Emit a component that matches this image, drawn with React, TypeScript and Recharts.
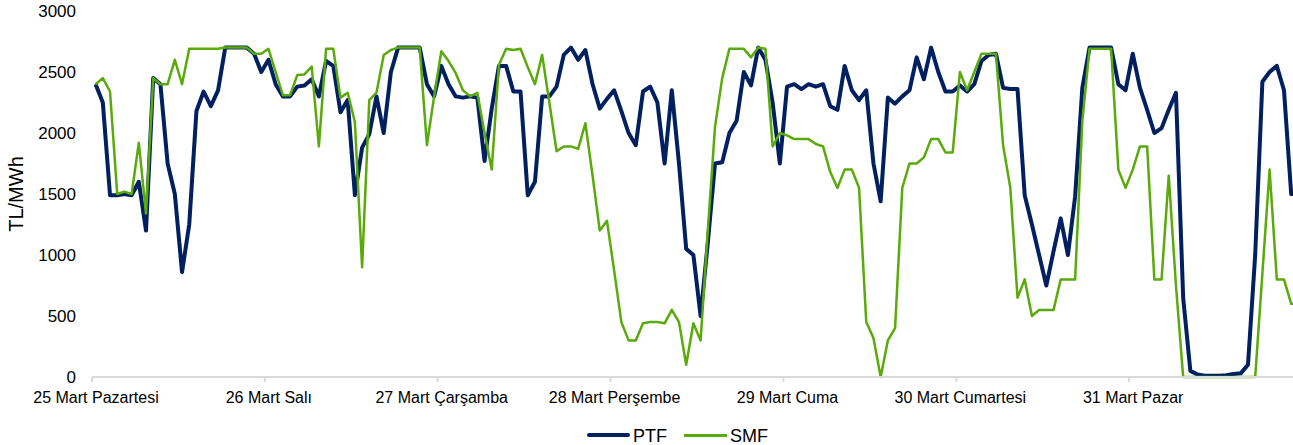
import React from 'react';
import { LineChart, Line, XAxis, YAxis, Legend, Label } from 'recharts';

const dayLabels = [
  '25 Mart Pazartesi',
  '26 Mart Salı',
  '27 Mart Çarşamba',
  '28 Mart Perşembe',
  '29 Mart Cuma',
  '30 Mart Cumartesi',
  '31 Mart Pazar',
];

const HOURS_PER_DAY = 24;

// hourly values, TL/MWh
const ptfValues = [
  2400, 2250, 1490, 1490, 1500, 1490, 1600, 1200, 2450, 2400, 1750, 1500, 860, 1250, 2180, 2340, 2220, 2350, 2700, 2700, 2700, 2700, 2650, 2500,
  2600, 2400, 2300, 2300, 2380, 2390, 2440, 2300, 2590, 2550, 2170, 2270, 1490, 1880, 1990, 2300, 2000, 2500, 2700, 2700, 2700, 2700, 2400, 2300,
  2550, 2400, 2300, 2290, 2300, 2290, 1770, 2200, 2550, 2550, 2340, 2340, 1490, 1600, 2300, 2300, 2380, 2640, 2700, 2600, 2680, 2400, 2200, 2280,
  2350, 2180, 2000, 1900, 2340, 2380, 2250, 1750, 2350, 1750, 1050, 1000, 500, 1100, 1750, 1760, 2000, 2100, 2500, 2390, 2700, 2600, 2250, 1750,
  2380, 2400, 2360, 2400, 2380, 2400, 2220, 2190, 2550, 2350, 2270, 2350, 1750, 1440, 2290, 2240, 2300, 2350, 2620, 2440, 2700, 2500, 2340, 2340,
  2390, 2340, 2400, 2590, 2640, 2650, 2370, 2360, 2360, 1490, 1250, 1000, 750, 1030, 1300, 1000, 1480, 2370, 2700, 2700, 2700, 2700, 2400, 2350,
  2650, 2370, 2190, 2000, 2040, 2190, 2330, 650, 50, 20, 10, 10, 10, 15, 25, 30, 100, 1000, 2420, 2500, 2550, 2350, 1500, 1500,
];

const smfValues = [
  2400, 2450, 2340, 1500, 1520, 1500, 1920, 1340, 2450, 2400, 2400, 2600, 2400, 2690, 2690, 2690, 2690, 2690, 2700, 2700, 2700, 2700, 2650, 2650,
  2690, 2500, 2310, 2310, 2475, 2480, 2545, 1890, 2690, 2690, 2290, 2330, 2090, 900, 2270, 2330, 2640, 2680, 2700, 2700, 2700, 2700, 1900, 2300,
  2670, 2590, 2490, 2350, 2300, 2330, 2000, 1700, 2560, 2690, 2680, 2690, 2540, 2400, 2640, 2250, 1850, 1890, 1890, 1870, 2080, 1650, 1200, 1280,
  870, 450, 300, 300, 440, 450, 450, 440, 550, 450, 100, 440, 300, 1200, 2050, 2450, 2690, 2690, 2690, 2620, 2700, 2690, 1890, 2000,
  1980, 1950, 1950, 1950, 1910, 1890, 1680, 1550, 1700, 1700, 1550, 450, 320, 0, 300, 400, 1550, 1750, 1750, 1800, 1950, 1950, 1840, 1840,
  2500, 2350, 2500, 2650, 2650, 2650, 1900, 1550, 650, 800, 500, 550, 550, 550, 800, 800, 800, 2100, 2690, 2690, 2690, 2690, 1700, 1550,
  1700, 1890, 1890, 800, 800, 1650, 750, 0, 0, 0, 0, 0, 0, 0, 0, 0, 0, 0, 850, 1700, 800, 800, 600, 600,
];

const yTicks = [0, 500, 1000, 1500, 2000, 2500, 3000];
const dayTicks = dayLabels.map((_, i) => i * HOURS_PER_DAY);

const PTF_COLOR = '#002060';
const SMF_COLOR = '#5aaa0c';

// each hour sits in the middle of its slot, day ticks on slot boundaries
const data = ptfValues.map((v, i) => ({ x: i + 0.5, PTF: v, SMF: smfValues[i] }));

const renderLegend = () => (
  <div style={{ height: 20, display: 'flex', alignItems: 'center', marginLeft: 587, fontSize: 18, color: '#000' }}>
    <span style={{ display: 'inline-block', width: 43, height: 4, borderRadius: 2, background: PTF_COLOR }} />
    <span style={{ marginLeft: 3, position: 'relative', top: 1 }}>PTF</span>
    <span style={{ display: 'inline-block', width: 43, height: 3, background: SMF_COLOR, marginLeft: 17 }} />
    <span style={{ marginLeft: 3, position: 'relative', top: 1 }}>SMF</span>
  </div>
);

const App: React.FC = () => {
  return (
    <div
      style={{
        position: 'absolute',
        left: 0,
        top: 0,
        width: 1293,
        height: 445,
        overflow: 'hidden',
        fontFamily: '"Liberation Sans", Arial, sans-serif',
      }}
    >
      <LineChart width={1302} height={445} data={data} margin={{ top: 11, right: 0, bottom: 0, left: 0 }}>
        <XAxis
          dataKey="x"
          type="number"
          domain={[0, ptfValues.length]}
          ticks={dayTicks}
          tickFormatter={(v: number) => dayLabels[v / HOURS_PER_DAY] ?? ''}
          height={48}
          stroke="#d9d9d9"
          strokeWidth={2}
          tickSize={5}
          tickMargin={10}
          tick={{ fontSize: 16, fill: '#000', dx: 4 }}
          interval={0}
        />
        <YAxis
          domain={[0, 3000]}
          ticks={yTicks}
          width={92}
          axisLine={false}
          tickLine={false}
          tickSize={0}
          tickMargin={16}
          tick={{ fontSize: 17, fill: '#000' }}
        >
          <Label
            content={({ viewBox }: any) => {
              const cx = (viewBox?.x ?? 0) + 16;
              const cy = 194;
              return (
                <text
                  x={cx}
                  y={cy}
                  transform={`rotate(-90 ${cx} ${cy})`}
                  textAnchor="middle"
                  dominantBaseline="central"
                  fontSize={20}
                  fill="#000"
                >
                  TL/MWh
                </text>
              );
            }}
          />
        </YAxis>
        <Legend verticalAlign="bottom" content={renderLegend} />
        <Line
          type="linear"
          dataKey="PTF"
          stroke={PTF_COLOR}
          strokeWidth={4}
          strokeLinejoin="round"
          dot={false}
          activeDot={false}
          isAnimationActive={false}
        />
        <Line
          type="linear"
          dataKey="SMF"
          stroke={SMF_COLOR}
          strokeWidth={2.5}
          strokeLinejoin="round"
          dot={false}
          activeDot={false}
          isAnimationActive={false}
        />
      </LineChart>
    </div>
  );
};

export default App;
